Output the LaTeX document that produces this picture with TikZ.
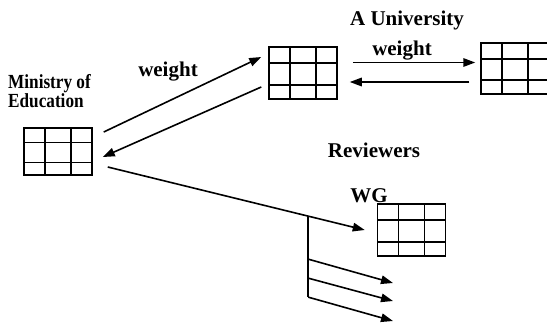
\documentclass[tikz,border=0pt]{standalone}
\usepackage{fontspec}
\setmainfont{Liberation Serif}
\usetikzlibrary{arrows.meta, calc}

\tikzset{
    % 3x3 table drawn as one node
    table/.style={draw, line width=1.5pt, inner sep=0pt,
        minimum width=68pt, minimum height=52pt,
        path picture={
            \foreach \f in {0.31,0.69}{
                \draw[line width=1.5pt]
                    ($(path picture bounding box.north west)!\f!(path picture bounding box.north east)$) --
                    ($(path picture bounding box.south west)!\f!(path picture bounding box.south east)$);
            }
            \foreach \f in {0.31,0.73}{
                \draw[line width=1.5pt]
                    ($(path picture bounding box.north west)!\f!(path picture bounding box.south west)$) --
                    ($(path picture bounding box.north east)!\f!(path picture bounding box.south east)$);
            }
        }},
    lbl/.style={font=\fontsize{21}{25}\selectfont\bfseries, anchor=base, inner sep=0pt},
    flow/.style={line width=1.6pt, -{Triangle[length=12pt,width=8.5pt]}},
}

\begin{document}
\begin{tikzpicture}[x=1pt, y=-1pt]
    \useasboundingbox (0,0) rectangle (547,327);

    % LEFT: ministry
    \node[inner sep=0pt, anchor=north west, align=left, xscale=0.86,
          font=\fontsize{20}{15.5}\selectfont\bfseries] (moetxt) at (8,74) {Ministry of\\Education};
    \node[table, minimum height=47pt] (moe) at (58,151.5) {};

    % TOP: university and the other table
    \node[lbl] (unitxt) at (407,25) {A University};
    \node[table] (uni) at (303,73) {};
    \node[table, minimum height=51pt] (other) at (515,68.5) {};

    % BOTTOM: reviewers
    \node[lbl] (revtxt) at (374,157) {Reviewers};
    \node[lbl] (wgtxt) at (369,202) {WG};
    \node[table] (wg) at (411.5,230) {};

    \node[lbl] (w1) at (168,76) {weight};
    \node[lbl] (w2) at (402,55) {weight};

    % Arrows
    \draw[flow] ([xshift=11pt,yshift=19.5pt]moe.east) -- ([xshift=-7pt,yshift=16pt]uni.west);
    \draw[flow] ([xshift=-7pt,yshift=-14pt]uni.west) -- ([xshift=10pt,yshift=-5.5pt]moe.east);
    \draw[flow] ([xshift=15pt,yshift=10.5pt]uni.east) -- ([xshift=-5pt,yshift=6pt]other.west);
    \draw[flow] ([xshift=-11pt,yshift=-13.5pt]other.west) -- ([xshift=12pt,yshift=-9pt]uni.east);
    \draw[flow] ([xshift=15pt,yshift=-15.5pt]moe.east) -- coordinate[pos=0.78] (fork) ([xshift=-12pt]wg.west);

    % Fork down to the reviewers
    \coordinate (r1) at (393,283);
    \coordinate (r2) at (393,301);
    \coordinate (r3) at (393,321);
    \draw[line width=1.6pt] (fork) -- ([yshift=-81pt]fork);
    \draw[flow] ([yshift=-43pt]fork) -- (r1);
    \draw[flow] ([yshift=-62pt]fork) -- (r2);
    \draw[flow] ([yshift=-81pt]fork) -- (r3);
\end{tikzpicture}
\end{document}
